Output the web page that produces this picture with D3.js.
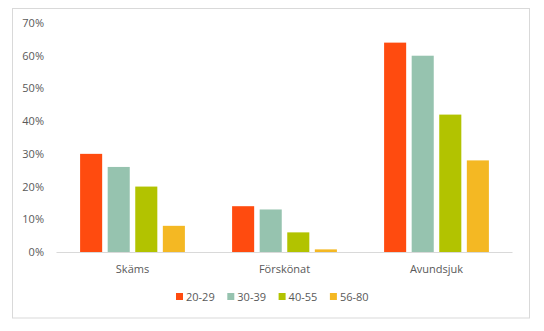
<!DOCTYPE html>
<html>
<head>
<meta charset="utf-8">
<script src="https://cdn.jsdelivr.net/npm/d3@7"></script>
<style>
  html, body { margin: 0; padding: 0; background: #fff; }
  svg { display: block; }
  text { font-family: "Open Sans", "Liberation Sans", sans-serif; fill: #595959; }
</style>
</head>
<body>
<svg id="chart" width="544" height="331"></svg>
<script>
// Share of respondents per feeling, by age group
const categories = ["Skäms", "Förskönat", "Avundsjuk"];
const ageGroups = ["20-29", "30-39", "40-55", "56-80"];
const colors = ["#FF4B0F", "#96C3AF", "#B2C300", "#F4B823"];
const values20_29 = [0.30, 0.14, 0.64];
const values30_39 = [0.26, 0.13, 0.60];
const values40_55 = [0.20, 0.06, 0.42];
const values56_80 = [0.08, 0.008, 0.28];
const yTicks = [0, 0.1, 0.2, 0.3, 0.4, 0.5, 0.6, 0.7];

const series = [values20_29, values30_39, values40_55, values56_80];

const svg = d3.select("#chart");

// outer chart frame
svg.append("rect")
  .attr("x", 12.5).attr("y", 8.5)
  .attr("width", 517).attr("height", 309.5)
  .attr("fill", "#fff").attr("stroke", "#d9d9d9").attr("stroke-width", 1);

const plot = { left: 56.5, right: 512.5, top: 23, bottom: 252 };

const x0 = d3.scaleBand().domain(categories)
  .range([plot.left, plot.right]).paddingInner(0).paddingOuter(0);
const x1 = d3.scaleBand().domain(ageGroups)
  .range([23.6, x0.bandwidth() - 23.6]).paddingInner(0.2).paddingOuter(0);
const y = d3.scaleLinear().domain([0, 0.7]).range([plot.bottom, plot.top]);

// y-axis labels (no gridlines)
const yAxis = d3.axisLeft(y).tickValues(yTicks)
  .tickFormat(d3.format(".0%")).tickSize(0).tickPadding(0);
const gy = svg.append("g").attr("transform", `translate(44,0)`).call(yAxis);
gy.select(".domain").remove();
gy.selectAll("text").attr("font-size", 11).style("font-family", "'Open Sans', sans-serif").attr("fill", "#595959");

// bars
const groups = svg.append("g").selectAll("g")
  .data(categories)
  .join("g")
  .attr("transform", d => `translate(${x0(d)},0)`);

groups.selectAll("rect")
  .data((c, ci) => ageGroups.map((a, ai) => ({ age: a, ai, v: series[ai][ci] })))
  .join("rect")
  .attr("x", d => x1(d.age))
  .attr("y", d => y(d.v))
  .attr("width", x1.bandwidth())
  .attr("height", d => plot.bottom - y(d.v))
  .attr("fill", d => colors[d.ai]);

// x axis baseline and category labels
const xAxis = d3.axisBottom(x0).tickSize(0).tickPadding(13);
const gx = svg.append("g").attr("transform", `translate(0,${plot.bottom})`).call(xAxis);
gx.select(".domain").attr("stroke", "#d9d9d9").attr("stroke-width", 1.2)
  .attr("d", `M${plot.left},0.5H${plot.right}`);
gx.selectAll("text").attr("font-size", 11).style("font-family", "'Open Sans', sans-serif").attr("fill", "#595959");

// legend
const legend = svg.append("g").attr("transform", "translate(176,297)");
const item = legend.selectAll("g").data(ageGroups).join("g")
  .attr("transform", (d, i) => `translate(${i * 51.3},0)`);
item.append("rect").attr("x", 0).attr("y", -4).attr("width", 7).attr("height", 7)
  .attr("fill", (d, i) => colors[i]);
item.append("text").attr("x", 10).attr("y", 0).attr("dy", "0.35em")
  .attr("font-size", 11).text(d => d);
</script>
</body>
</html>
